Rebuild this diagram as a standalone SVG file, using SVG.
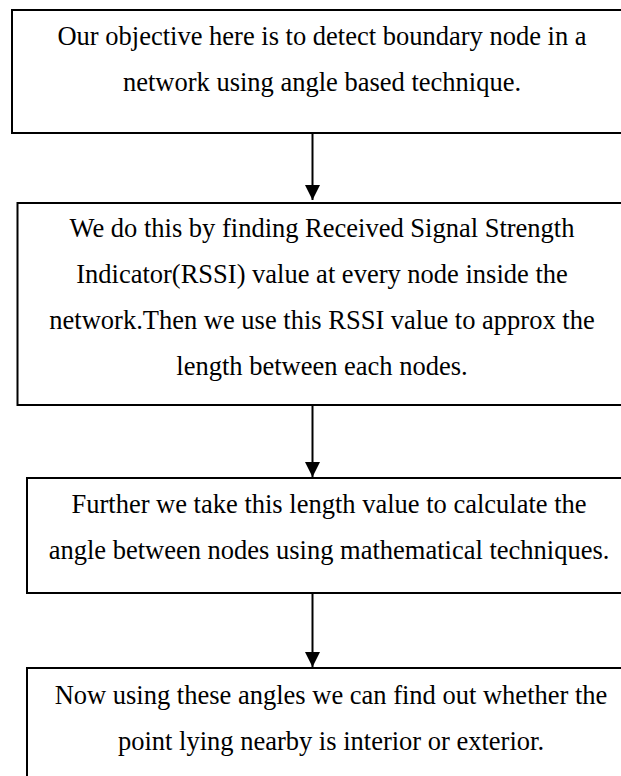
<svg xmlns="http://www.w3.org/2000/svg" width="621" height="776" viewBox="0 0 621 776">
<defs>
<style>
.box{fill:#fff;stroke:#000;stroke-width:2}
.t{font-family:"Liberation Serif","Times New Roman",serif;font-size:26.5px;fill:#000;text-anchor:middle}
.c{stroke:#000;stroke-width:2;fill:none}
</style>
<marker id="ah" markerWidth="15" markerHeight="15" viewBox="0 0 15 15" refX="15" refY="7.5" orient="auto" markerUnits="userSpaceOnUse">
<path d="M0,0 L15,7.5 L0,15 Z" fill="#000"/>
</marker>
</defs>
<rect width="621" height="776" fill="#fff"/>
<g id="n1">
<rect class="box" x="12" y="10" width="620" height="123"/>
<text class="t" x="322" y="45">Our objective here is to detect boundary node in a</text>
<text class="t" x="322" y="91">network using angle based technique.</text>
</g>
<g id="n2">
<rect class="box" x="17.5" y="203" width="610" height="202"/>
<text class="t" x="322" y="237">We do this by finding Received Signal Strength</text>
<text class="t" x="322" y="283">Indicator(RSSI) value at every node inside the</text>
<text class="t" x="322" y="329">network.Then we use this RSSI value to approx the</text>
<text class="t" x="322" y="375">length between each nodes.</text>
</g>
<g id="n3">
<rect class="box" x="27" y="478" width="605" height="115"/>
<text class="t" x="329" y="513">Further we take this length value to calculate the</text>
<text class="t" x="329" y="559">angle between nodes using mathematical techniques.</text>
</g>
<g id="n4">
<rect class="box" x="27" y="668" width="610" height="130"/>
<text class="t" x="331" y="704">Now using these angles we can find out whether the</text>
<text class="t" x="331" y="750">point lying nearby is interior or exterior.</text>
</g>
<g id="connectors">
<line class="c" x1="312.5" y1="133" x2="312.5" y2="200" marker-end="url(#ah)"/>
<line class="c" x1="312.5" y1="405" x2="312.5" y2="477" marker-end="url(#ah)"/>
<line class="c" x1="312.5" y1="593" x2="312.5" y2="667" marker-end="url(#ah)"/>
</g>
</svg>
